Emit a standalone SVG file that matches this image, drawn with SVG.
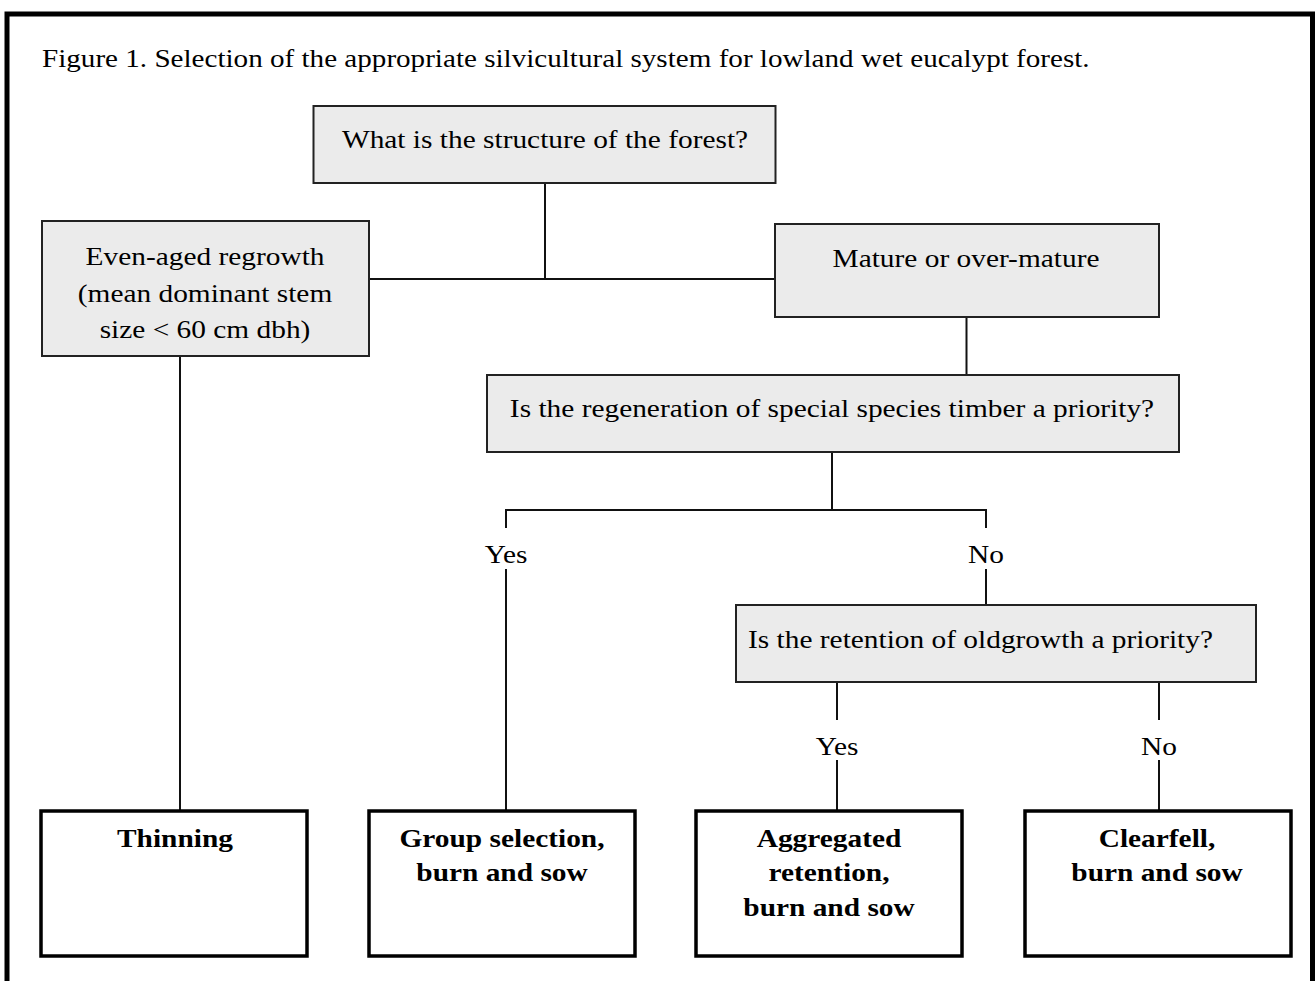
<svg xmlns="http://www.w3.org/2000/svg" width="1315" height="981" viewBox="0 0 1315 981">
<style>
.t{font-family:"Liberation Serif","Times New Roman",serif;font-size:26px;fill:#000;}
.b{font-family:"Liberation Serif","Times New Roman",serif;font-size:26px;font-weight:bold;fill:#000;}
.q{fill:#ebebeb;stroke:#222;stroke-width:2;}
.r{fill:#fff;stroke:#000;stroke-width:3.5;}
.c{stroke:#111;stroke-width:2;fill:none;}
.f{stroke:#000;stroke-width:5;fill:none;}
</style>
<rect width="1315" height="981" fill="#fff"/>
<g id="frame">
<path class="f" d="M7 985 V14 H1312.5 V985"/>
</g>
<text id="title" class="t" transform="translate(42,67) scale(1.12,1)">Figure 1. Selection of the appropriate silvicultural system for lowland wet eucalypt forest.</text>
<g id="connectors">
<path class="c" d="M545 183 V279"/>
<path class="c" d="M369 279 H775"/>
<path class="c" d="M180 356 V811"/>
<path class="c" d="M966.5 317 V375"/>
<path class="c" d="M832 452 V510"/>
<path class="c" d="M506 528 V510 H986 V528"/>
<path class="c" d="M506 569 V811"/>
<path class="c" d="M986 569 V605"/>
<path class="c" d="M837 682 V720"/>
<path class="c" d="M837 760 V811"/>
<path class="c" d="M1159 682 V720"/>
<path class="c" d="M1159 760 V811"/>
<text class="t" text-anchor="middle" transform="translate(506,563) scale(1.13,1)">Yes</text>
<text class="t" text-anchor="middle" transform="translate(986,563) scale(1.13,1)">No</text>
<text class="t" text-anchor="middle" transform="translate(837,755) scale(1.13,1)">Yes</text>
<text class="t" text-anchor="middle" transform="translate(1159,755) scale(1.13,1)">No</text>
</g>
<g id="n-structure">
<rect class="q" x="313.5" y="106" width="462" height="77"/>
<text class="t" text-anchor="middle" transform="translate(545,147.5) scale(1.13,1)">What is the structure of the forest?</text>
</g>
<g id="n-evenaged">
<rect class="q" x="42" y="221" width="327" height="135"/>
<text class="t" text-anchor="middle" transform="translate(205,265) scale(1.13,1)">Even-aged regrowth</text>
<text class="t" text-anchor="middle" transform="translate(205,301.5) scale(1.13,1)">(mean dominant stem</text>
<text class="t" text-anchor="middle" transform="translate(205,338) scale(1.13,1)">size &lt; 60 cm dbh)</text>
</g>
<g id="n-mature">
<rect class="q" x="775" y="224" width="384" height="93"/>
<text class="t" text-anchor="middle" transform="translate(966,267) scale(1.13,1)">Mature or over-mature</text>
</g>
<g id="n-special">
<rect class="q" x="487" y="375" width="692" height="77"/>
<text class="t" text-anchor="middle" transform="translate(832,417) scale(1.13,1)">Is the regeneration of special species timber a priority?</text>
</g>
<g id="n-retention">
<rect class="q" x="736" y="605" width="520" height="77"/>
<text class="t" text-anchor="middle" transform="translate(980.5,648) scale(1.13,1)">Is the retention of oldgrowth a priority?</text>
</g>
<g id="n-thinning">
<rect class="r" x="41" y="811" width="266" height="145"/>
<text class="b" text-anchor="middle" transform="translate(175,847) scale(1.13,1)">Thinning</text>
</g>
<g id="n-group">
<rect class="r" x="369" y="811" width="266" height="145"/>
<text class="b" text-anchor="middle" transform="translate(502,847) scale(1.13,1)">Group selection,</text>
<text class="b" text-anchor="middle" transform="translate(502,881) scale(1.13,1)">burn and sow</text>
</g>
<g id="n-aggregated">
<rect class="r" x="696" y="811" width="266" height="145"/>
<text class="b" text-anchor="middle" transform="translate(829,847) scale(1.13,1)">Aggregated</text>
<text class="b" text-anchor="middle" transform="translate(829,881) scale(1.13,1)">retention,</text>
<text class="b" text-anchor="middle" transform="translate(829,916) scale(1.13,1)">burn and sow</text>
</g>
<g id="n-clearfell">
<rect class="r" x="1025" y="811" width="266" height="145"/>
<text class="b" text-anchor="middle" transform="translate(1157,847) scale(1.13,1)">Clearfell,</text>
<text class="b" text-anchor="middle" transform="translate(1157,881) scale(1.13,1)">burn and sow</text>
</g>
</svg>
